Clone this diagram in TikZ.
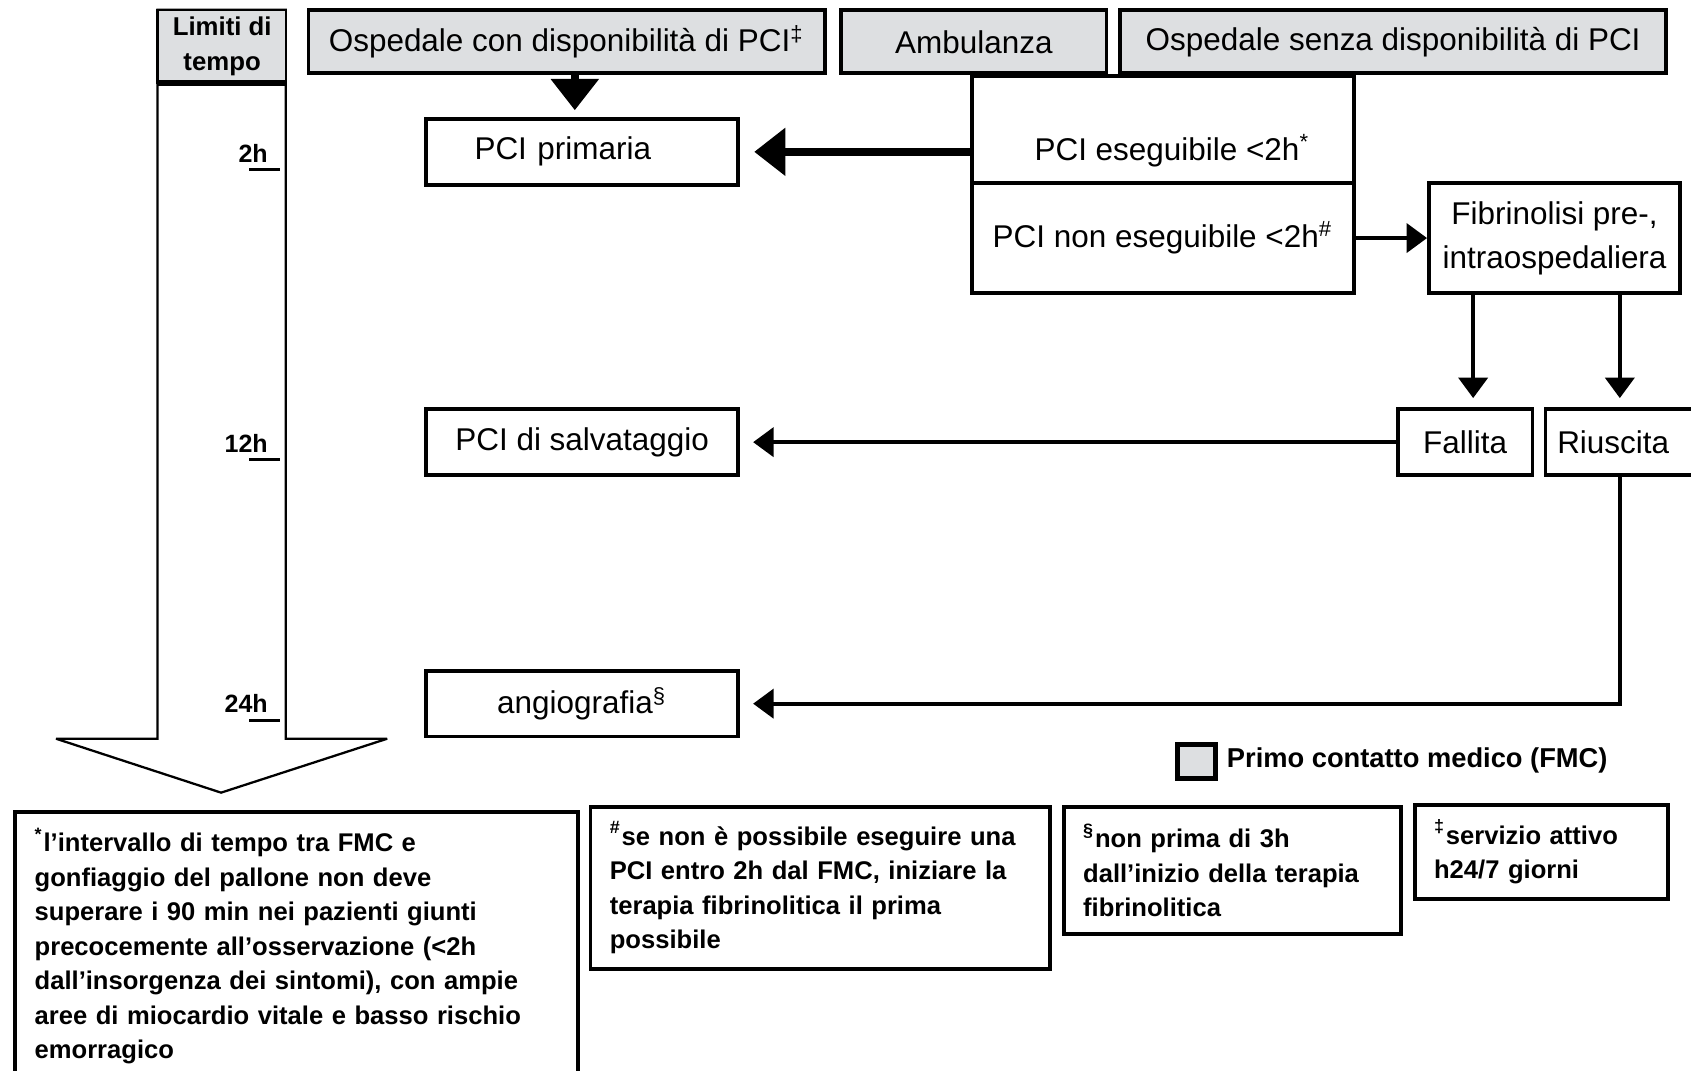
\documentclass[tikz,border=0pt]{standalone}
\usepackage{fontspec}
\setmainfont{Liberation Sans}
\usetikzlibrary{arrows.meta}
\definecolor{fmcgray}{RGB}{221,223,225}

\begin{document}
\begin{tikzpicture}[x=0.1mm, y=-0.1mm]
	\tikzset{
		box/.style={draw=black, line width=1pt, inner sep=0pt, font=\fontsize{8.3}{10}\selectfont},
		fmc/.style={box, fill=fmcgray},
		note/.style={draw=black, line width=1pt, anchor=north west, align=left, inner xsep=1.8mm, inner ysep=0pt, font=\fontsize{6.75}{9.1}\selectfont\bfseries},
		hlab/.style={anchor=base east, inner sep=0pt, font=\fontsize{6.6}{8}\selectfont\bfseries},
		arr/.style={line width=1pt, -{Triangle[length=1.9mm,width=2.7mm]}},
		bigarr/.style={line width=2.1pt, -{Triangle[length=2.9mm,width=4.3mm]}}
	};
	\useasboundingbox (0,0) rectangle (1568,993);

	% time axis
	\draw[line width=0.6pt, miter limit=2] (146,9) -- (146,685) -- (52,685) -- (205,735) -- (359,685) -- (265,685) -- (265,9) -- cycle;
	\draw[line width=0.6pt, fill=fmcgray] (146,9) rectangle (265,77);
	\draw[line width=1.6pt] (146,77) -- (265,77);
	\node[align=center, font=\fontsize{6.8}{9.1}\selectfont\bfseries] (lim) at (206,43) {Limiti di\\tempo};

	\node[hlab] (t2) at (249,151) {2h};
	\node[hlab] (t12) at (249,420) {12h};
	\node[hlab] (t24) at (249,661) {24h};
	\draw[line width=0.9pt] (231,157) -- (260,157);
	\draw[line width=0.9pt] (231,426) -- (260,426);
	\draw[line width=0.9pt] (231,668) -- (260,668);

	% first medical contact
	\node[fmc, minimum width=47.9mm, minimum height=5.85mm] (osp) at (525.5,38.75) {Ospedale con disponibilità di PCI\textsuperscript{‡}};
	\node[fmc, minimum width=24.6mm, minimum height=5.85mm] (amb) at (903,38.75) {Ambulanza};
	\node[fmc, minimum width=50.6mm, minimum height=5.85mm] (sen) at (1291.8,38.75) {Ospedale senza disponibilità di PCI};

	\node[box, minimum width=35.46mm, minimum height=9.95mm] (ese) at (1078.3,120.25) {};
	\node[font=\fontsize{8.3}{10}\selectfont, inner sep=0pt] (eset) at (1087,140) {PCI eseguibile <2h\textsuperscript{*}};
	\node[box, minimum width=35.46mm, minimum height=10.15mm] (non) at (1078.3,220.75) {PCI non eseguibile <2h\textsuperscript{\#}};
	\node[box, minimum width=23.3mm, minimum height=10.2mm, align=center, font=\fontsize{8.3}{11.7}\selectfont] (fib) at (1441.5,221) {Fibrinolisi pre-,\\intraospedaliera};

	\node[box, minimum height=6.16mm, align=left, text width=19.96mm, inner xsep=4.5mm] (pri) at (539.8,140.8) {PCI primaria};
	\node[box, minimum width=28.96mm, minimum height=6.09mm] (sal) at (539.8,410) {PCI di salvataggio};
	\node[box, minimum width=28.96mm, minimum height=6.1mm] (ang) at (539.8,652.5) {angiografia\textsuperscript{§}};

	\node[box, minimum width=12.5mm, minimum height=6.1mm] (fal) at (1358.5,410) {Fallita};
	\node[box, minimum height=6.1mm, align=left, text width=14.3mm, inner xsep=1.1mm] (riu) at (1515.5,410) {Riuscita};

	\coordinate (oa) at (533,0);
	\coordinate (fa) at (1366,0);
	\coordinate (fb) at (1502,0);

	\draw[bigarr, shorten >=0.6mm] (osp.south -| oa) -- (pri.north -| oa);
	\draw[bigarr, shorten >=1.3mm] (pri.east -| ese.west) -- (pri.east);
	\draw[arr] (non.east) -- (non.east -| fib.west);
	\draw[arr, shorten >=0.86mm] (fib.south -| fa) -- (fal.north -| fa);
	\draw[arr, shorten >=0.86mm] (fib.south -| fb) -- (riu.north -| fb);
	\draw[arr, shorten >=1.2mm] (fal.west) -- (sal.east);
	\draw[arr, shorten >=1.2mm] (riu.south -| fb) |- (ang.east);

	% legend
	\node[draw, line width=1.3pt, fill=fmcgray, minimum width=3.5mm, minimum height=3.2mm, inner sep=0pt] (leg) at (1109.5,706) {};
	\node[anchor=west, inner sep=0pt, font=\fontsize{7.2}{9}\selectfont\bfseries] (legt) at (1137,705) {Primo contatto medico (FMC)};

	% notes
	\node[note, minimum height=24.9mm, text width=48.56mm] (n1) at (12.4,751) {\textsuperscript{*}l’intervallo di tempo tra FMC e\\gonfiaggio del pallone non deve\\superare i 90 min nei pazienti giunti\\precocemente all’osservazione (<2h\\dall’insorgenza dei sintomi), con ampie\\aree di miocardio vitale e basso rischio\\emorragico};
	\node[note, minimum height=15mm, text width=38.99mm] (n2) at (545.7,746.5) {\textsuperscript{\#}se non è possibile eseguire una\\PCI entro 2h dal FMC, iniziare la\\terapia fibrinolitica il prima\\possibile};
	\node[note, minimum height=11.75mm, text width=27.64mm] (n3) at (984.6,746.5) {\textsuperscript{§}non prima di 3h\\dall’inizio della terapia\\fibrinolitica};
	\node[note, minimum height=8.65mm, text width=19.87mm] (n4) at (1310,745) {\textsuperscript{‡}servizio attivo\\h24/7 giorni};

\end{tikzpicture}
\end{document}
